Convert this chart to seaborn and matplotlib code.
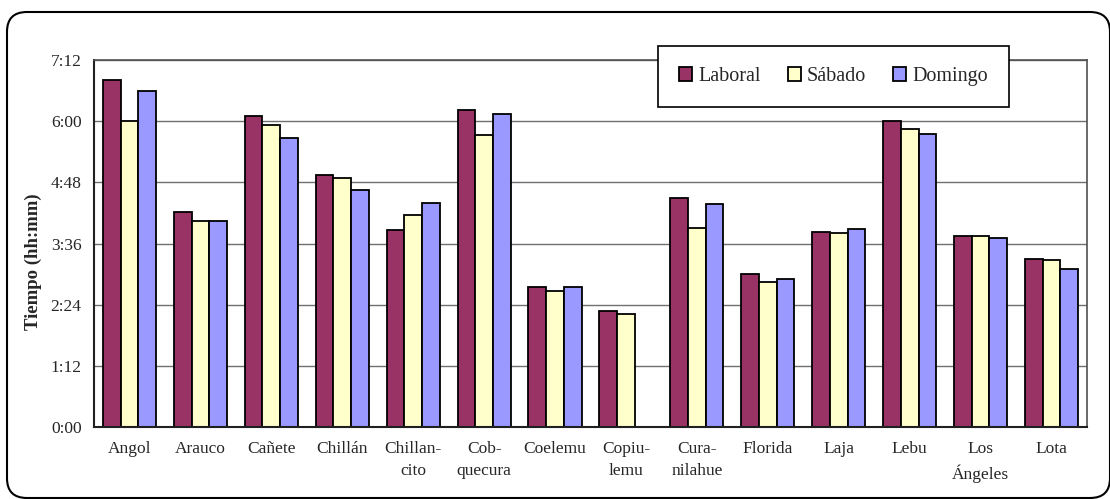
'''
Tiempo de viaje por comuna: día laboral, sábado y domingo
'''

import numpy as np
import pandas as pd
import matplotlib.pyplot as plt
from matplotlib.patches import FancyBboxPatch
from matplotlib.ticker import FuncFormatter, FixedLocator
import seaborn as sns

# datos (minutos)
comunas = ['Angol', 'Arauco', 'Cañete', 'Chillán', 'Chillan-\ncito', 'Cob-\nquecura',
           'Coelemu', 'Copiu-\nlemu', 'Cura-\nnilahue', 'Florida', 'Laja', 'Lebu',
           'Los\nÁngeles', 'Lota']
laboral = [409, 253, 366, 297, 232, 373, 165, 136, 269, 180, 230, 360, 225, 198]
sabado = [360, 243, 355, 293, 249, 344, 160, 133, 234, 171, 228, 351, 225, 196]
domingo = [396, 243, 340, 279, 264, 368, 165, np.nan, 262, 174, 233, 345, 223, 186]
dias = ['Laboral', 'Sábado', 'Domingo']
colores = ['#993366', '#FFFFCC', '#9999FF']

df = pd.DataFrame({
    'comuna': comunas * 3,
    'dia': [d for d in dias for _ in comunas],
    'minutos': laboral + sabado + domingo,
})

sns.set_style('white')
plt.rcParams['font.family'] = ['Liberation Serif', 'DejaVu Serif']

fig = plt.figure(figsize=(11.1, 4.99), dpi=100)
ax = fig.add_axes([94 / 1110, 1 - 427 / 499, 993 / 1110, 367 / 499])

sns.barplot(data=df, x='comuna', y='minutos', hue='dia', hue_order=dias,
            palette=colores, width=0.75, gap=0, edgecolor='black',
            linewidth=1.3, saturation=1, ax=ax)

# eje y en hh:mm
ax.set_ylim(0, 432)
ax.set_yticks(range(0, 433, 72))
ax.yaxis.set_major_formatter(FuncFormatter(lambda v, p: f'{int(v) // 60}:{int(v) % 60:02d}'))
ax.grid(axis='y', color='#707070', linewidth=1)
ax.set_axisbelow(True)
ax.set_ylabel('Tiempo (hh:mm)', fontsize=13.5, fontweight='bold')
ax.yaxis.set_label_coords(-0.052, 0.45)
ax.set_xlabel('')

# marcas del eje x entre categorías
ax.set_xlim(-0.5, len(comunas) - 0.5)
ax.xaxis.set_minor_locator(FixedLocator(np.arange(-0.5, len(comunas), 1)))
ax.tick_params(axis='x', which='major', length=0, pad=10, labelsize=12.5)
ax.tick_params(axis='x', which='minor', length=5, width=1, direction='out', color='#404040')
ax.tick_params(axis='y', length=5, width=1, direction='out', color='#404040', labelsize=12.5, pad=4)
ax.set_xticks(range(len(comunas)))
ax.set_xticklabels(comunas, linespacing=1.55, va='top')

for s in ['left', 'bottom']:
    ax.spines[s].set_color('#202020')
    ax.spines[s].set_linewidth(1.5)
for s in ['top', 'right']:
    ax.spines[s].set_color('#505050')
    ax.spines[s].set_linewidth(1.2)

# leyenda
leg = ax.legend(loc='center', bbox_to_anchor=(658 / 1110, 1 - 109 / 499, 351 / 1110, 65 / 499),
                bbox_transform=fig.transFigure, ncol=3, fontsize=14.5, frameon=True,
                fancybox=False, handlelength=0.65, handleheight=0.65, handletextpad=0.3,
                columnspacing=1.6, borderaxespad=0, borderpad=1.05, mode='expand')
leg.get_frame().set_edgecolor('black')
leg.get_frame().set_linewidth(1.2)
leg.get_frame().set_alpha(1)

# marco redondeado
borde = FancyBboxPatch((7 / 1110, 1 / 499), 1103 / 1110, 486 / 499,
                       boxstyle='round,pad=0,rounding_size=0.018',
                       transform=fig.transFigure, fill=False,
                       edgecolor='black', linewidth=1.5, mutation_aspect=2.2)
fig.patches.append(borde)

fig.savefig('out.png', dpi=100)
